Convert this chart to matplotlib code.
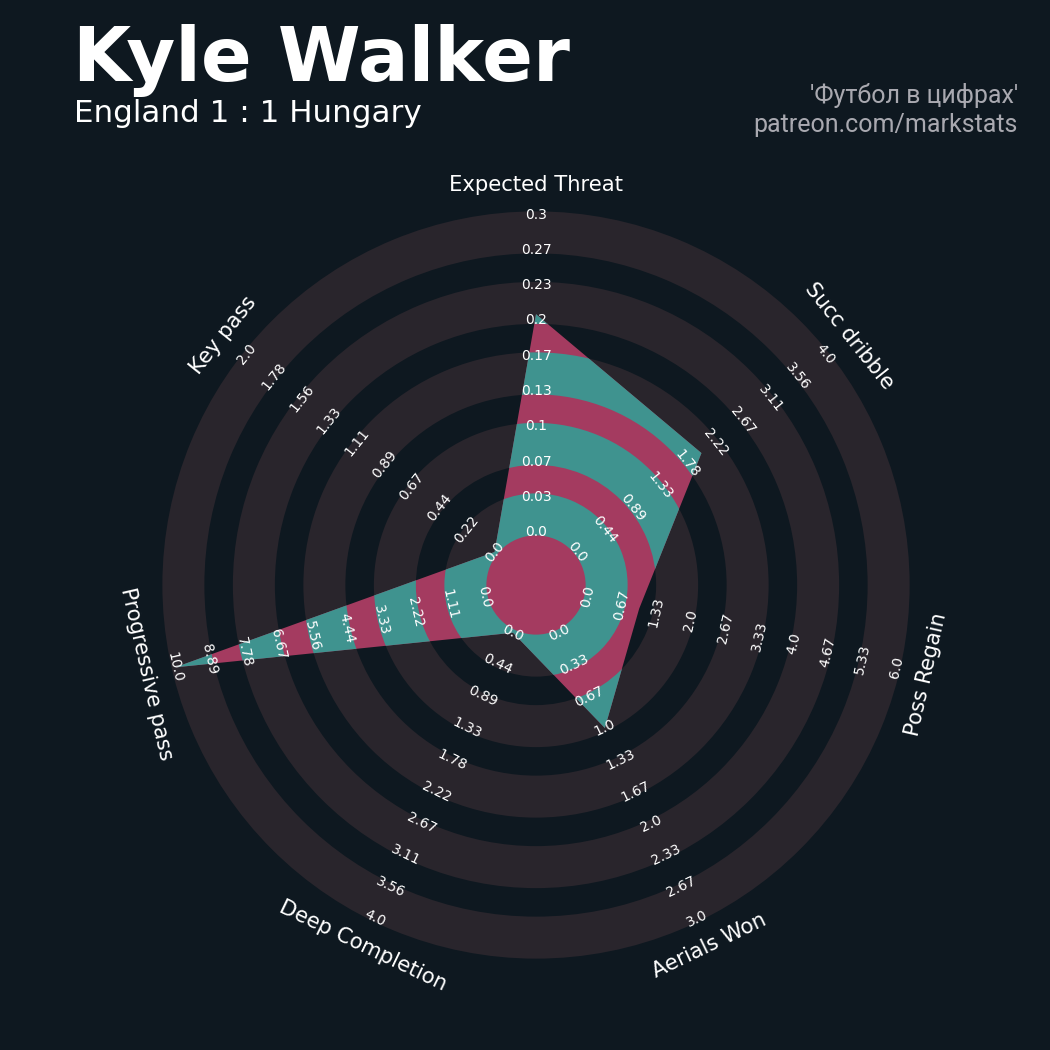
import matplotlib
matplotlib.use('Agg')
import matplotlib.pyplot as plt
from matplotlib.patches import Polygon, Wedge, Circle
import numpy as np

# dati del radar
params = ['Expected Threat', 'Succ dribble', 'Poss Regain', 'Aerials Won',
          'Deep Completion', 'Progressive pass', 'Key pass']
low = [0.0, 0.0, 0.0, 0.0, 0.0, 0.0, 0.0]
high = [0.3, 4.0, 6.0, 3.0, 4.0, 10.0, 2.0]
values = [0.206, 2.0, 1.0, 1.0, 0.0, 10.0, 0.0]

range_labels = [
    ['0.0', '0.03', '0.07', '0.1', '0.13', '0.17', '0.2', '0.23', '0.27', '0.3'],
    ['0.0', '0.44', '0.89', '1.33', '1.78', '2.22', '2.67', '3.11', '3.56', '4.0'],
    ['0.0', '0.67', '1.33', '2.0', '2.67', '3.33', '4.0', '4.67', '5.33', '6.0'],
    ['0.0', '0.33', '0.67', '1.0', '1.33', '1.67', '2.0', '2.33', '2.67', '3.0'],
    ['0.0', '0.44', '0.89', '1.33', '1.78', '2.22', '2.67', '3.11', '3.56', '4.0'],
    ['0.0', '1.11', '2.22', '3.33', '4.44', '5.56', '6.67', '7.78', '8.89', '10.0'],
    ['0.0', '0.22', '0.44', '0.67', '0.89', '1.11', '1.33', '1.56', '1.78', '2.0'],
]

title = 'Kyle Walker'
subtitle = 'England 1 : 1 Hungary'
credit_1 = "'Футбол в цифрах'"
credit_2 = 'patreon.com/markstats'

# colori
bg = '#0e1820'
ring_col = '#29252c'
teal = '#3f938f'
pink = '#a43b60'
grey_txt = '#a9a9b0'

# geometria (unita' = pixel)
r_first = 53.0        # raggio della prima etichetta (valore minimo)
r_step = 35.25        # distanza fra le etichette
ring_w = 42.0         # spessore degli anelli
label_r = 400.0       # raggio dei nomi dei parametri

n = len(params)
angles = np.deg2rad(90 - np.arange(n) * 360 / n)
r_labels = r_first + r_step * np.arange(10)


def rot_text(a):
    # rotazione del testo tangente al cerchio
    deg = np.rad2deg(a) - 90
    deg = (deg + 180) % 360 - 180
    if deg < -90 or deg > 90:
        deg = deg + 180
        deg = (deg + 180) % 360 - 180
    return deg


fig = plt.figure(figsize=(10.5, 10.5), dpi=100, facecolor=bg)
ax = fig.add_axes([0, 0, 1, 1])
ax.set_facecolor(bg)
ax.set_xlim(-536, 514)
ax.set_ylim(-465, 585)
ax.set_aspect('equal')
ax.axis('off')

# vertici del poligono
rr = [r_labels[0] + (v - lo) / (hi - lo) * (r_labels[-1] - r_labels[0])
      for v, lo, hi in zip(values, low, high)]
verts = np.column_stack([np.array(rr) * np.cos(angles), np.array(rr) * np.sin(angles)])

radar = Polygon(verts, closed=True, fc=pink, ec='none', zorder=2)
ax.add_patch(radar)
ax.add_patch(Circle((0, 0), r_labels[0] - 3.5, fc=pink, ec='none', zorder=2))

# anelli
for k in range(5):
    mid = (r_labels[2 * k] + r_labels[2 * k + 1]) / 2
    ax.add_patch(Wedge((0, 0), mid + ring_w / 2, 0, 360, width=ring_w,
                       fc=ring_col, ec='none', zorder=1))
    w2 = Wedge((0, 0), mid + ring_w / 2, 0, 360, width=ring_w,
               fc=teal, ec='none', zorder=3)
    ax.add_patch(w2)
    w2.set_clip_path(radar)

# nomi dei parametri ed etichette dei range
for i in range(n):
    a = angles[i]
    rot = rot_text(a)
    ax.text(label_r * np.cos(a), label_r * np.sin(a), params[i], color='white',
            fontsize=15.2, ha='center', va='center', rotation=rot,
            rotation_mode='anchor', zorder=5)
    for j in range(10):
        ax.text(r_labels[j] * np.cos(a), r_labels[j] * np.sin(a), range_labels[i][j],
                color='white', fontsize=10, ha='center', va='center',
                rotation=rot, rotation_mode='anchor', zorder=5)

# titoli
fig.text(73 / 1050, 1 - 81 / 1050, title, color='white', fontsize=54,
         fontweight='bold', ha='left', va='baseline')
fig.text(74 / 1050, 1 - 122 / 1050, subtitle, color='white', fontsize=22.3,
         ha='left', va='baseline')
fig.text(1018 / 1050, 1 - 103 / 1050, credit_1, color=grey_txt, fontsize=18,
         family='Roboto', ha='right', va='baseline')
fig.text(1018 / 1050, 1 - 132 / 1050, credit_2, color=grey_txt, fontsize=18,
         family='Roboto', ha='right', va='baseline')

fig.savefig('out.png', dpi=100, facecolor=bg)
